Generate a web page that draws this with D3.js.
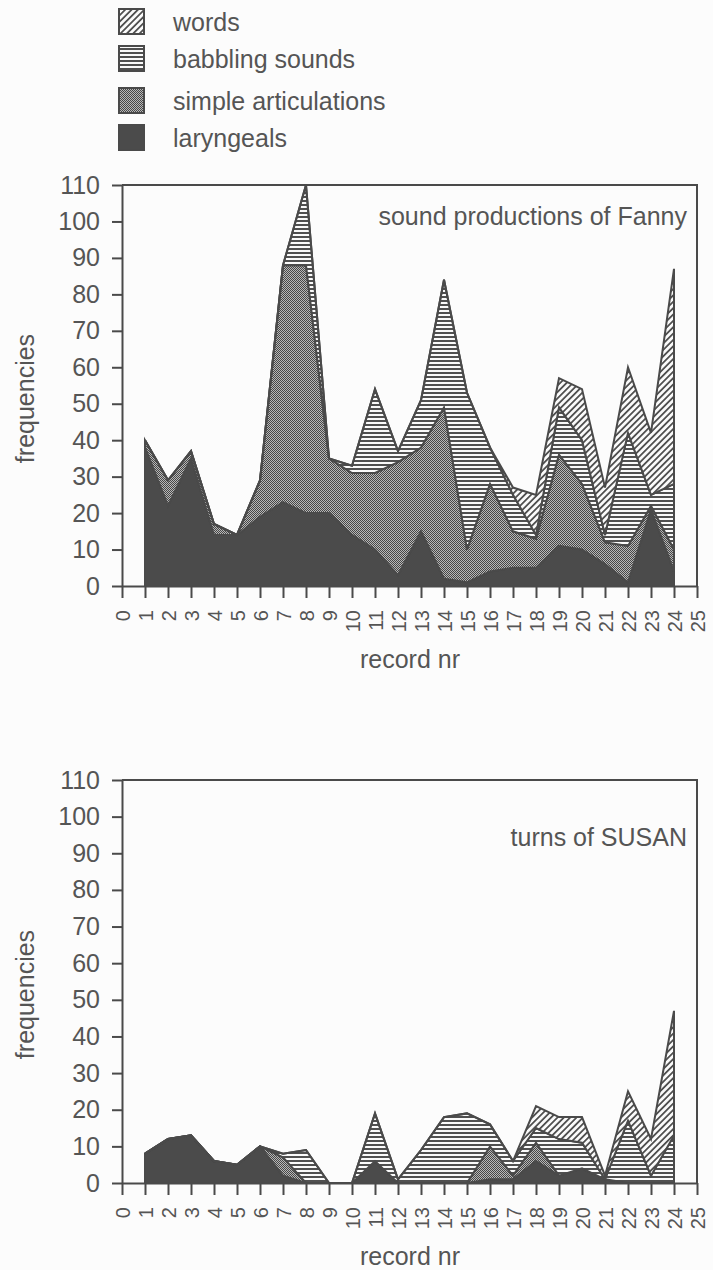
<!DOCTYPE html>
<html>
<head>
<meta charset="utf-8">
<script src="https://cdn.jsdelivr.net/npm/d3@7"></script>
<style>
  body { margin: 0; background: #fcfcfc; }
  svg { display: block; font-family: "Liberation Sans", Arial, sans-serif; }
</style>
</head>
<body>
<div id="chart"></div>
<script>
// records 1..24
const records = d3.range(1, 25);
const seriesKeys = ["laryngeals", "simple", "babbling", "words"];
const legendLabels = ["words", "babbling sounds", "simple articulations", "laryngeals"];
const yTicks = d3.range(0, 111, 10);
const xTicks = d3.range(0, 26);

// sound productions of Fanny
const fannyLaryngeals = [38, 22, 35, 14, 14, 19, 23, 20, 20, 14, 10, 3, 15, 2, 1, 4, 5, 5, 11, 10, 6, 1, 21, 4];
const fannySimple     = [2, 7, 2, 3, 0, 10, 65, 68, 15, 17, 21, 31, 23, 47, 9, 24, 10, 8, 25, 18, 6, 10, 1, 6];
const fannyBabbling   = [0, 0, 0, 0, 0, 0, 0, 22, 0, 2, 23, 3, 13, 35, 43, 10, 10, 1, 13, 12, 2, 31, 3, 18];
const fannyWords      = [0, 0, 0, 0, 0, 0, 0, 0, 0, 0, 0, 0, 0, 0, 0, 0, 2, 11, 8, 14, 13, 18, 17, 59];

// turns of SUSAN
const susanLaryngeals = [8, 12, 13, 6, 5, 10, 2, 0, 0, 0, 6, 0, 0, 0, 0, 1, 1, 6, 2, 4, 1, 0, 0, 0];
const susanSimple     = [0, 0, 0, 0, 0, 0, 5, 0, 0, 0, 0, 0, 0, 0, 0, 9, 1, 5, 0, 0, 0, 0, 0, 0];
const susanBabbling   = [0, 0, 0, 0, 0, 0, 1, 9, 0, 0, 13, 1, 9, 18, 19, 6, 4, 4, 10, 7, 0, 17, 2, 13];
const susanWords      = [0, 0, 0, 0, 0, 0, 0, 0, 0, 0, 0, 0, 0, 0, 0, 0, 0, 6, 6, 7, 1, 8, 10, 34];

function toRows(lar, sim, bab, wor) {
  return records.map((r, i) => ({
    record: r, laryngeals: lar[i], simple: sim[i], babbling: bab[i], words: wor[i]
  }));
}

const width = 713, height = 1270;
const ink = "#4a4a4a", textCol = "#555";

const svg = d3.select("#chart").append("svg")
  .attr("width", width)
  .attr("height", height);

svg.append("rect").attr("width", width).attr("height", height).attr("fill", "#fcfcfc");

// fill patterns
const defs = svg.append("defs");
const pSimple = defs.append("pattern").attr("id", "p-simple")
  .attr("patternUnits", "userSpaceOnUse").attr("width", 2).attr("height", 2);
pSimple.append("rect").attr("width", 2).attr("height", 2).attr("fill", "#b8b8b8");
pSimple.append("rect").attr("width", 1).attr("height", 1).attr("fill", "#474747");
pSimple.append("rect").attr("x", 1).attr("y", 1).attr("width", 1).attr("height", 1).attr("fill", "#474747");

const pBab = defs.append("pattern").attr("id", "p-babbling")
  .attr("patternUnits", "userSpaceOnUse").attr("width", 8).attr("height", 4);
pBab.append("rect").attr("width", 8).attr("height", 4).attr("fill", "#fafafa");
pBab.append("rect").attr("width", 8).attr("height", 2).attr("fill", "#505050");

const pWords = defs.append("pattern").attr("id", "p-words")
  .attr("patternUnits", "userSpaceOnUse").attr("width", 4.5).attr("height", 4.5)
  .attr("patternTransform", "rotate(45)");
pWords.append("rect").attr("width", 4.5).attr("height", 4.5).attr("fill", "#fafafa");
pWords.append("rect").attr("width", 1.8).attr("height", 4.5).attr("fill", "#505050");

const fills = {
  laryngeals: "#4b4b4b",
  simple: "url(#p-simple)",
  babbling: "url(#p-babbling)",
  words: "url(#p-words)"
};

// legend
const legendKeys = ["words", "babbling", "simple", "laryngeals"];
const legendY = [8, 45, 87, 124];
const legend = svg.append("g");
legendKeys.forEach((k, i) => {
  legend.append("rect")
    .attr("x", 119).attr("y", legendY[i] + 1)
    .attr("width", 25).attr("height", 25)
    .attr("fill", fills[k])
    .attr("stroke", ink).attr("stroke-width", 2);
  legend.append("text")
    .attr("x", 173).attr("y", legendY[i] + 23)
    .attr("font-size", 25).attr("fill", textCol)
    .text(legendLabels[i]);
});

function drawChart(rows, top, bottom, title, titleY) {
  const left = 122, right = 697;
  const x = d3.scaleLinear().domain([0, 25]).range([left, right]);
  const y = d3.scaleLinear().domain([0, 110]).range([bottom, top]);

  const g = svg.append("g");
  const stacked = d3.stack().keys(seriesKeys)(rows);
  const area = d3.area()
    .x(d => x(d.data.record))
    .y0(d => y(d[0]))
    .y1(d => y(d[1]));

  g.selectAll("path.layer")
    .data(stacked)
    .join("path")
    .attr("class", "layer")
    .attr("d", area)
    .attr("fill", d => fills[d.key])
    .attr("stroke", ink)
    .attr("stroke-width", 2)
    .attr("stroke-linejoin", "miter");

  // frame: top and right border
  g.append("path")
    .attr("d", `M${left},${top}H${right}V${bottom}`)
    .attr("fill", "none").attr("stroke", ink).attr("stroke-width", 2);

  const yAxis = g.append("g")
    .attr("transform", `translate(${left},0)`)
    .call(d3.axisLeft(y).tickValues(yTicks).tickSize(10).tickPadding(12).tickSizeOuter(0));
  yAxis.select(".domain").attr("stroke", ink).attr("stroke-width", 2);
  yAxis.selectAll(".tick line").attr("stroke", ink).attr("stroke-width", 2);
  yAxis.selectAll(".tick text")
    .attr("font-size", 25).attr("fill", textCol)
    .attr("font-family", "Liberation Sans, Arial, sans-serif");

  const xAxis = g.append("g")
    .attr("transform", `translate(0,${bottom})`)
    .call(d3.axisBottom(x).tickValues(xTicks).tickSize(12).tickSizeOuter(0));
  xAxis.select(".domain").attr("stroke", ink).attr("stroke-width", 2);
  xAxis.selectAll(".tick line").attr("stroke", ink).attr("stroke-width", 2);
  xAxis.selectAll(".tick text")
    .attr("font-size", 20).attr("fill", textCol)
    .attr("font-family", "Liberation Sans, Arial, sans-serif")
    .attr("text-anchor", "end")
    .attr("transform", "rotate(-90)")
    .attr("x", -24).attr("y", 0).attr("dy", "0.35em");

  g.append("text")
    .attr("x", 410).attr("y", bottom + 82)
    .attr("text-anchor", "middle")
    .attr("font-size", 25).attr("fill", textCol)
    .text("record nr");

  g.append("text")
    .attr("transform", `translate(34,${(top + bottom) / 2 + 13}) rotate(-90)`)
    .attr("text-anchor", "middle")
    .attr("font-size", 25).attr("fill", textCol)
    .text("frequencies");

  g.append("text")
    .attr("x", 687).attr("y", titleY)
    .attr("text-anchor", "end")
    .attr("font-size", 25).attr("fill", textCol)
    .text(title);
}

drawChart(toRows(fannyLaryngeals, fannySimple, fannyBabbling, fannyWords), 185, 586,
  "sound productions of Fanny", 225);
drawChart(toRows(susanLaryngeals, susanSimple, susanBabbling, susanWords), 780, 1183,
  "turns of SUSAN", 846);
</script>
</body>
</html>
